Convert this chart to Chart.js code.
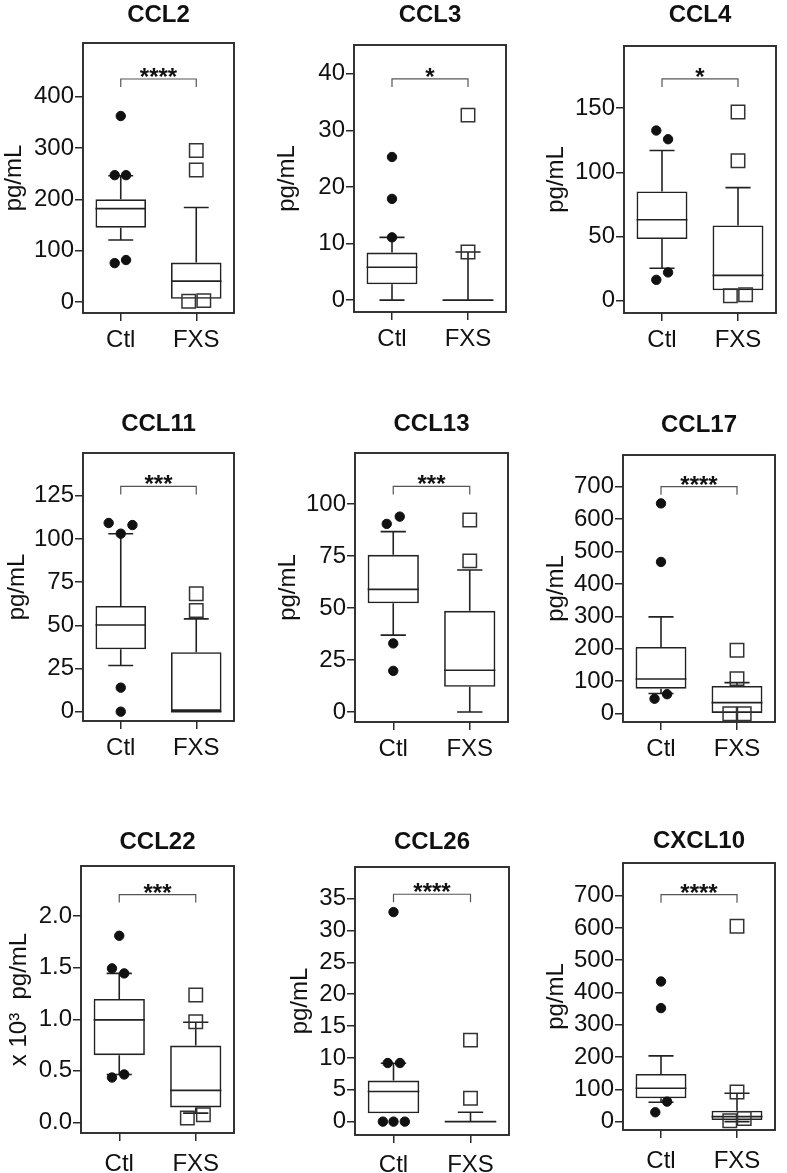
<!DOCTYPE html>
<html>
<head>
<meta charset="utf-8">
<script src="https://cdn.jsdelivr.net/npm/chart.js@4.4.1/dist/chart.umd.min.js"></script>
<style>
html, body { margin: 0; padding: 0; background: #fff; overflow: hidden; }
.panel { position: absolute; }
</style>
</head>
<body>
<script>
const groups = ['Ctl', 'FXS'];
const titles = ['CCL2', 'CCL3', 'CCL4', 'CCL11', 'CCL13', 'CCL17', 'CCL22', 'CCL26', 'CXCL10'];
const yTitles = ['pg/mL', 'pg/mL', 'pg/mL', 'pg/mL', 'pg/mL', 'pg/mL', 'x 10\u00b3  pg/mL', 'pg/mL', 'pg/mL'];
const stars = ['****', '*', '*', '***', '***', '****', '***', '****', '****'];

// box stats per panel, [Ctl, FXS]
const q1 = [[145, 6.5], [2.8, 0], [47.8, 7.8], [36.1, 0], [52.3, 12.1], [77, 0], [0.652, 0.145], [1.31, 0], [72.4, 5]];
const med = [[182, 41], [5.8, 0], [62.9, 19.5], [50.2, 0], [59, 20.1], [107, 34], [0.994, 0.31], [4.72, 0], [103.4, 15.5]];
const q3 = [[200, 77], [8.4, 0], [85, 58.5], [61.2, 34.4], [75.6, 48.7], [206, 85.4], [1.197, 0.745], [6.44, 0], [147.9, 34]];
const whiskLo = [[121, 6.5], [0, 0], [25, 7.8], [26.7, 0], [37, 0], [62, 0], [0.465, 0.09], [1.31, 0], [60, 0]];
const whiskHi = [[246, 184], [11.1, 8.5], [117, 88], [103, 53.7], [86.8, 68.3], [298.5, 95.7], [1.445, 0.971], [9.17, 1.47], [203.7, 88]];

// outliers
const ctlOut = [[362, 247, 247, 76, 82], [25.3, 17.9, 11.1], [132.6, 125.8, 16, 21.8], [109.2, 103, 108, 13.9, 0],
  [90.5, 94, 33, 19.8], [648.5, 468, 46, 60], [1.81, 1.494, 1.445, 0.435, 0.465], [32.9, 9.2, 9.2, 0, 0, 0], [434, 351.6, 29, 62]];
const fxsOut = [[295, 257, 2, 3], [32.7, 8.5], [147, 109, 3.6, 4.4], [68.2, 58.5],
  [92.4, 72.7], [195.6, 108, 0, 0], [1.235, 0.977, 0.042, 0.074], [12.8, 3.67], [605, 92, 3, 10]];
// horizontal spread of overlapping outliers (category units)
const ctlJitter = [[0, -0.08, 0.07, -0.08, 0.07], [0, 0, 0], [-0.075, 0.08, -0.075, 0.08], [-0.16, 0, 0.155, 0, 0],
  [-0.085, 0.085, 0, 0], [0, 0, -0.085, 0.08], [0, -0.095, 0.065, -0.095, 0.065], [0, -0.075, 0.084, -0.138, 0, 0.147], [0, 0, -0.075, 0.08]];
const fxsJitter = [[0, 0, -0.1, 0.1], [0, 0], [0, 0, -0.1, 0.1], [0, 0],
  [0, 0], [0, 0, -0.095, 0.095], [0, 0, -0.11, 0.1], [0, 0], [0, 0, -0.095, 0.095]];

const yTickLabels = [
  ['0', '100', '200', '300', '400'],
  ['0', '10', '20', '30', '40'],
  ['0', '50', '100', '150'],
  ['0', '25', '50', '75', '100', '125'],
  ['0', '25', '50', '75', '100'],
  ['0', '100', '200', '300', '400', '500', '600', '700'],
  ['0.0', '0.5', '1.0', '1.5', '2.0'],
  ['0', '5', '10', '15', '20', '25', '30', '35'],
  ['0', '100', '200', '300', '400', '500', '600', '700']
];
const yMin = [-21, -2.1, -9.9, -5.4, -4.8, -25.7, -0.103, -2.1, -25.9];
const yMax = [504, 45.1, 198.6, 149.7, 124.6, 797.8, 2.487, 39.98, 801];
const sigY = [434, 39.1, 172.9, 130.4, 108.5, 700, 2.21, 35.7, 703];

// layout: frame left, top, right, bottom; title centre y; y-title centre x; x label padding
const panelBox = [
  [83, 43, 242, 313, 15.3, 16, 5], [354, 45, 514, 312, 15.3, 289.5, 5], [624, 46, 784, 313, 15.8, 558, 5],
  [83, 453, 242, 721, 424, 19, 5], [355, 453, 516, 722, 424.3, 290, 5], [623, 455, 783, 722, 425, 558, 5],
  [81, 866, 242, 1133, 842.5, 21, 9], [355, 867, 517, 1135, 842.5, 302, 8], [623, 863, 783, 1130, 841, 558, 9]
];
const colX = [0, 262, 524];

const HALF = 0.335, CAP = 0.165;
const INK = '#222';
Chart.defaults.font.family = '"Liberation Sans", Arial, sans-serif';
Chart.defaults.color = '#111';

const framePlugin = {
  id: 'frame',
  beforeDatasetsDraw(chart) {
    const {ctx, chartArea: a} = chart;
    ctx.save();
    ctx.strokeStyle = '#2a2a2a';
    ctx.lineWidth = 1.9;
    ctx.strokeRect(a.left, a.top, a.right - a.left, a.bottom - a.top);
    ctx.restore();
  },
  afterDatasetsDraw(chart, args, opts) {
    const {ctx} = chart;
    const x = chart.scales.x, y = chart.scales.y;
    ctx.save();
    ctx.font = 'bold 24px "Liberation Sans", Arial, sans-serif';
    ctx.fillStyle = '#111';
    ctx.textAlign = 'center';
    ctx.textBaseline = 'alphabetic';
    ctx.fillText(opts.stars, (x.getPixelForValue(0) + x.getPixelForValue(1)) / 2, y.getPixelForValue(opts.sigY) + 6);
    ctx.restore();
  }
};

function boxLines(i) {
  const pts = [];
  const seg = (x1, y1, x2, y2) => { pts.push({x: x1, y: y1}, {x: x2, y: y2}, {x: x2, y: null}); };
  for (let g = 0; g < 2; g++) {
    const hi = whiskHi[i][g], lo = whiskLo[i][g];
    if (hi > q3[i][g]) { seg(g, q3[i][g], g, hi); seg(g - CAP, hi, g + CAP, hi); }
    if (lo < q1[i][g]) { seg(g, q1[i][g], g, lo); seg(g - CAP, lo, g + CAP, lo); }
    seg(g - HALF, med[i][g], g + HALF, med[i][g]);
  }
  return pts;
}

for (let i = 0; i < 9; i++) {
  const [fl, ft, fr, fb, titleY, yTitleX, xPad] = panelBox[i];
  const cx = colX[i % 3];
  const top = Math.round(titleY - 14.4);
  const div = document.createElement('div');
  div.className = 'panel';
  div.style.left = cx + 'px';
  div.style.top = top + 'px';
  div.style.width = (fr - cx + 3) + 'px';
  div.style.height = (fb + 40 - top) + 'px';
  const canvas = document.createElement('canvas');
  div.appendChild(canvas);
  document.body.appendChild(div);

  const drop = 0.03 * (yMax[i] - yMin[i]);
  const grid = {drawOnChartArea: false, drawTicks: true, tickLength: 8, offset: false, color: '#2a2a2a', lineWidth: 1.5};

  new Chart(canvas.getContext('2d'), {
    type: 'scatter',
    data: {
      datasets: [
        {
          type: 'scatter',
          data: ctlOut[i].map((v, k) => ({x: 0 + ctlJitter[i][k], y: v})),
          pointStyle: 'circle', pointRadius: 4.7, borderWidth: 1,
          backgroundColor: '#111', borderColor: '#111', clip: false
        },
        {
          type: 'scatter',
          data: fxsOut[i].map((v, k) => ({x: 1 + fxsJitter[i][k], y: v})),
          pointStyle: 'rect', pointRadius: 9.5, borderWidth: 1.5,
          backgroundColor: 'rgba(0,0,0,0)', borderColor: '#333', clip: false
        },
        {
          type: 'line',
          data: boxLines(i),
          borderColor: INK, borderWidth: 1.6, pointRadius: 0, spanGaps: false, tension: 0, fill: false
        },
        {
          type: 'bar',
          data: groups.map((g, k) => ({x: k, y: [q1[i][k], q3[i][k]]})),
          backgroundColor: 'rgba(0,0,0,0)', borderColor: INK, borderWidth: 1.6, borderSkipped: false,
          barPercentage: 0.67, categoryPercentage: 1
        },
        {
          type: 'line',
          data: [{x: 0, y: sigY[i] - drop}, {x: 0, y: sigY[i]}, {x: 1, y: sigY[i]}, {x: 1, y: sigY[i] - drop}],
          borderColor: '#555', borderWidth: 1.2, pointRadius: 0, tension: 0, fill: false
        }
      ]
    },
    options: {
      responsive: true,
      maintainAspectRatio: false,
      animation: false,
      events: [],
      layout: {padding: {left: 0, right: 3, top: 0, bottom: 0}},
      plugins: {
        legend: {display: false},
        tooltip: {enabled: false},
        title: {
          display: true, text: titles[i], fullSize: false, color: '#111',
          font: {size: 24, weight: 'bold'},
          padding: {top: 0, bottom: ft - top - 28.8}
        },
        frame: {stars: stars[i], sigY: sigY[i]}
      },
      scales: {
        x: {
          type: 'linear', min: -0.5, max: 1.5, offset: false,
          afterBuildTicks: a => { a.ticks = groups.map((g, k) => ({value: k})); },
          afterFit: a => { a.height = 40; },
          ticks: {callback: v => groups[v], font: {size: 24}, color: '#111', padding: xPad, maxRotation: 0, autoSkip: false},
          grid: grid,
          border: {display: false}
        },
        y: {
          type: 'linear', min: yMin[i], max: yMax[i],
          afterBuildTicks: a => { a.ticks = yTickLabels[i].map(s => ({value: Number(s)})); },
          afterFit: a => { a.width = fl - cx; },
          ticks: {callback: (v, k) => yTickLabels[i][k], font: {size: 24}, color: '#111', padding: 1, autoSkip: false},
          grid: grid,
          border: {display: false},
          title: {
            display: true, text: yTitles[i], color: '#111', font: {size: 24},
            padding: {top: Math.max(0, yTitleX - cx - 16.4), bottom: 0}
          }
        }
      }
    },
    plugins: [framePlugin]
  });
}
</script>
</body>
</html>
